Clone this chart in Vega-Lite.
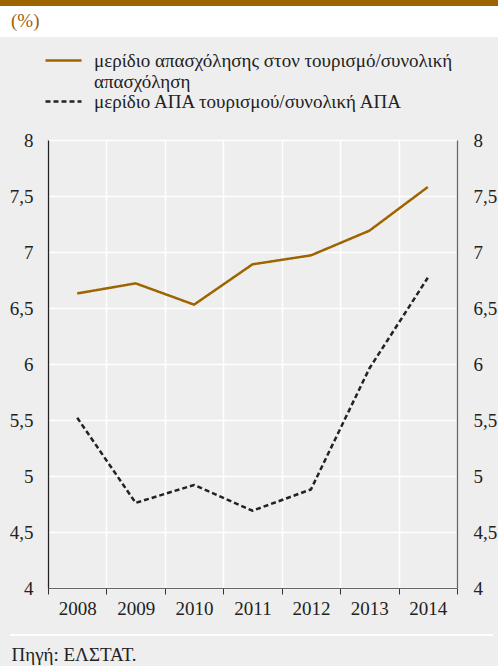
{
  "$schema": "https://vega.github.io/schema/vega-lite/v6.json",
  "width": 409,
  "height": 448,
  "autosize": "none",
  "padding": {"left": 48, "top": 140, "right": 41, "bottom": 78},
  "background": "#eeeeee",
  "title": {
    "text": "(%)",
    "anchor": "start",
    "frame": "group",
    "color": "#9e6400",
    "font": "Liberation Serif",
    "fontSize": 19,
    "fontWeight": "normal",
    "baseline": "alphabetic",
    "dx": -37,
    "dy": 50
  },
  "data": {
    "values": [
      {"year": "2008", "series": "μερίδιο απασχόλησης στον τουρισμό/συνολική απασχόληση", "value": 6.63},
      {"year": "2009", "series": "μερίδιο απασχόλησης στον τουρισμό/συνολική απασχόληση", "value": 6.72},
      {"year": "2010", "series": "μερίδιο απασχόλησης στον τουρισμό/συνολική απασχόληση", "value": 6.53},
      {"year": "2011", "series": "μερίδιο απασχόλησης στον τουρισμό/συνολική απασχόληση", "value": 6.89},
      {"year": "2012", "series": "μερίδιο απασχόλησης στον τουρισμό/συνολική απασχόληση", "value": 6.97},
      {"year": "2013", "series": "μερίδιο απασχόλησης στον τουρισμό/συνολική απασχόληση", "value": 7.19},
      {"year": "2014", "series": "μερίδιο απασχόλησης στον τουρισμό/συνολική απασχόληση", "value": 7.58},
      {"year": "2008", "series": "μερίδιο ΑΠΑ τουρισμού/συνολική ΑΠΑ", "value": 5.52},
      {"year": "2009", "series": "μερίδιο ΑΠΑ τουρισμού/συνολική ΑΠΑ", "value": 4.76},
      {"year": "2010", "series": "μερίδιο ΑΠΑ τουρισμού/συνολική ΑΠΑ", "value": 4.92},
      {"year": "2011", "series": "μερίδιο ΑΠΑ τουρισμού/συνολική ΑΠΑ", "value": 4.69},
      {"year": "2012", "series": "μερίδιο ΑΠΑ τουρισμού/συνολική ΑΠΑ", "value": 4.88},
      {"year": "2013", "series": "μερίδιο ΑΠΑ τουρισμού/συνολική ΑΠΑ", "value": 5.96},
      {"year": "2014", "series": "μερίδιο ΑΠΑ τουρισμού/συνολική ΑΠΑ", "value": 6.77}
    ]
  },
  "encoding": {
    "x": {
      "field": "year",
      "type": "ordinal",
      "scale": {"paddingInner": 0, "paddingOuter": 0},
      "axis": {
        "title": "Πηγή: ΕΛΣΤΑΤ.",
        "titleX": -37,
        "titleY": 72,
        "titleAlign": "left",
        "titleAnchor": "start",
        "titleBaseline": "alphabetic",
        "titleFont": "Liberation Serif",
        "titleFontSize": 19,
        "titleFontWeight": "normal",
        "titleColor": "#222222",
        "labelAngle": 0,
        "labelFont": "Liberation Serif",
        "labelFontSize": 19,
        "labelColor": "#222222",
        "labelPadding": 5,
        "tickBand": "extent",
        "tickSize": 6,
        "tickColor": "#333333",
        "domainColor": "#666666",
        "grid": true,
        "gridColor": "#ffffff",
        "gridWidth": 1.5
      }
    }
  },
  "layer": [
    {
      "transform": [{"filter": {"field": "series", "equal": "μερίδιο απασχόλησης στον τουρισμό/συνολική απασχόληση"}}],
      "mark": {"type": "line", "strokeWidth": 2.5},
      "encoding": {
        "y": {
          "field": "value",
          "type": "quantitative",
          "scale": {"domain": [4, 8], "zero": false, "nice": false},
          "axis": {
            "orient": "left",
            "title": null,
            "values": [4, 4.5, 5, 5.5, 6, 6.5, 7, 7.5, 8],
            "labelExpr": "replace(toString(datum.value), '.', ',')",
            "ticks": false,
            "labelPadding": 15,
            "labelFont": "Liberation Serif",
            "labelFontSize": 19,
            "labelColor": "#222222",
            "domainColor": "#222222",
            "domainWidth": 1.3,
            "grid": true,
            "gridColor": "#ffffff",
            "gridWidth": 1.5
          }
        },
        "color": {
          "field": "series",
          "type": "nominal",
          "scale": {"domain": ["μερίδιο απασχόλησης στον τουρισμό/συνολική απασχόληση", "μερίδιο ΑΠΑ τουρισμού/συνολική ΑΠΑ"], "range": ["#9e6400", "#222222"]},
          "legend": {
            "orient": "none", "legendX": 6, "legendY": -89, "title": null, "padding": 0,
            "symbolType": "M-3,0H3", "symbolSize": 144, "symbolStrokeWidth": 2.5,
            "labelFont": "Liberation Serif", "labelFontSize": 19, "labelColor": "#222222",
            "labelLimit": 600, "labelOffset": 21, "rowPadding": 0,
            "labelExpr": "datum.label == 'μερίδιο απασχόλησης στον τουρισμό/συνολική απασχόληση' ? ['μερίδιο απασχόλησης στον τουρισμό/συνολική', 'απασχόληση'] : datum.label"
          }
        },
        "strokeDash": {
          "field": "series",
          "type": "nominal",
          "scale": {"domain": ["μερίδιο απασχόλησης στον τουρισμό/συνολική απασχόληση", "μερίδιο ΑΠΑ τουρισμού/συνολική ΑΠΑ"], "range": [[1, 0], [5, 3]]},
          "legend": {
            "orient": "none", "legendX": 6, "legendY": -89, "title": null, "padding": 0,
            "symbolType": "M-3,0H3", "symbolSize": 144, "symbolStrokeWidth": 2.5,
            "labelFont": "Liberation Serif", "labelFontSize": 19, "labelColor": "#222222",
            "labelLimit": 600, "labelOffset": 21, "rowPadding": 0,
            "labelExpr": "datum.label == 'μερίδιο απασχόλησης στον τουρισμό/συνολική απασχόληση' ? ['μερίδιο απασχόλησης στον τουρισμό/συνολική', 'απασχόληση'] : datum.label"
          }
        }
      }
    },
    {
      "transform": [{"filter": {"field": "series", "equal": "μερίδιο ΑΠΑ τουρισμού/συνολική ΑΠΑ"}}],
      "mark": {"type": "line", "strokeWidth": 2.5},
      "encoding": {
        "y": {
          "field": "value",
          "type": "quantitative",
          "scale": {"domain": [4, 8], "zero": false, "nice": false},
          "axis": {
            "orient": "right",
            "title": null,
            "values": [4, 4.5, 5, 5.5, 6, 6.5, 7, 7.5, 8],
            "labelExpr": "replace(toString(datum.value), '.', ',')",
            "ticks": false,
            "labelPadding": 16,
            "labelFont": "Liberation Serif",
            "labelFontSize": 19,
            "labelColor": "#222222",
            "domainColor": "#666666",
            "domainWidth": 1.3,
            "grid": false
          }
        },
        "color": {"field": "series", "type": "nominal"},
        "strokeDash": {"field": "series", "type": "nominal"}
      }
    },
    {
      "mark": {"type": "point", "opacity": 0},
      "encoding": {
        "fill": {
          "field": "value",
          "type": "quantitative",
          "scale": {"range": ["#9e6400", "#9e6400"]},
          "legend": {
            "orient": "none", "legendX": -48, "legendY": -140, "direction": "horizontal",
            "title": null, "padding": 0, "fillColor": "#ffffff",
            "gradientLength": 498, "gradientThickness": 6, "gradientStrokeWidth": 0,
            "labelOpacity": 0, "labelFontSize": 18, "labelOffset": 13
          }
        },
        "stroke": {
          "field": "year",
          "type": "quantitative",
          "scale": {"range": ["#ffffff", "#ffffff"]},
          "legend": {
            "orient": "none", "legendX": -38, "legendY": 494, "direction": "horizontal",
            "title": null, "padding": 0,
            "gradientLength": 483, "gradientThickness": 2, "gradientStrokeWidth": 0,
            "labelOpacity": 0, "labelFontSize": 2
          }
        }
      }
    }
  ],
  "resolve": {"scale": {"y": "independent"}},
  "config": {
    "font": "Liberation Serif",
    "view": {"stroke": null},
    "axis": {"labelFont": "Liberation Serif", "titleFont": "Liberation Serif"},
    "legend": {"labelFont": "Liberation Serif", "titleFont": "Liberation Serif", "gradientHorizontalMaxLength": 600, "gradientHorizontalMinLength": 1}
  }
}
